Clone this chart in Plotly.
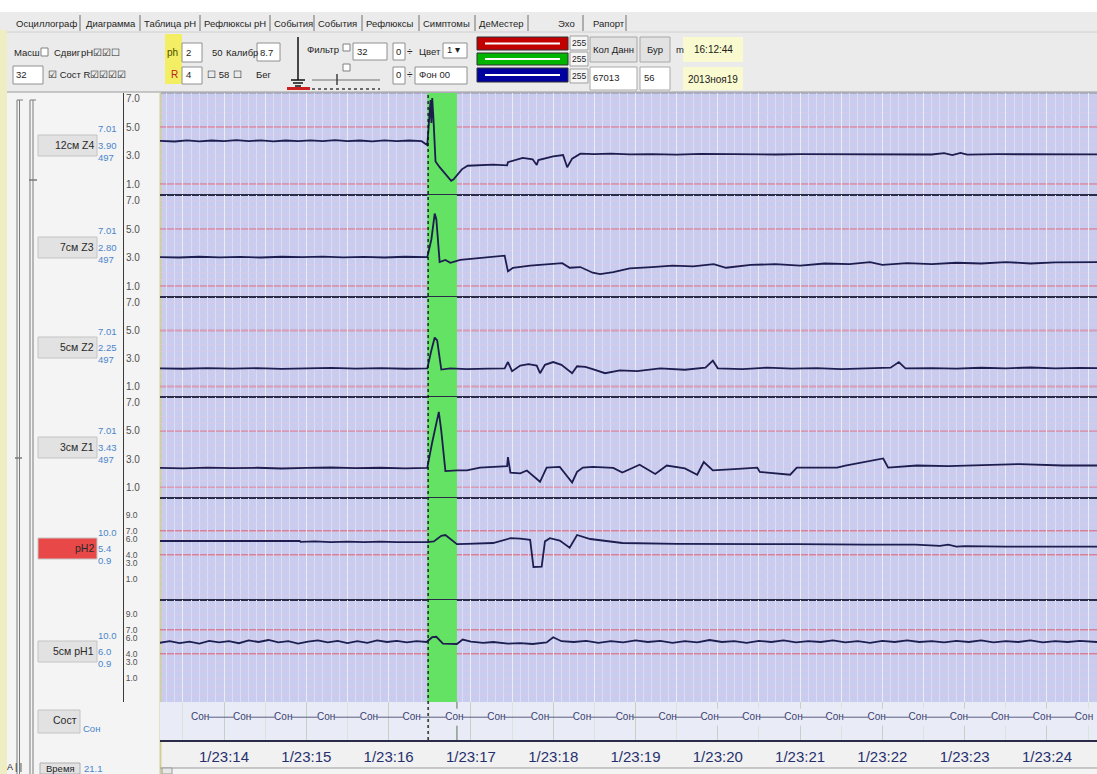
import plotly.graph_objects as go

W, H = 1097, 774

# ---------------- data ----------------
time_ticks = [14, 15, 16, 17, 18, 19, 20, 21, 22, 23, 24]
time_labels = ["1/23:14", "1/23:15", "1/23:16", "1/23:17", "1/23:18", "1/23:19",
               "1/23:20", "1/23:21", "1/23:22", "1/23:23", "1/23:24"]

ch1_t = [13.22, 13.40, 13.55, 13.70, 13.85, 14.00, 14.15, 14.30, 14.45, 14.60, 14.75, 14.90, 15.05, 15.20,
         15.35, 15.50, 15.65, 15.80, 15.95, 16.10, 16.25, 16.40, 16.47, 16.51, 16.52, 16.53, 16.545, 16.57,
         16.62, 16.70, 16.76, 16.79, 16.89, 16.96, 17.10, 17.27, 17.44, 17.45, 17.63, 17.75, 17.80, 17.82,
         18.00, 18.12, 18.17, 18.23, 18.33, 18.50, 18.70, 18.93, 19.20, 19.50, 19.80, 20.10, 20.40, 20.70,
         21.00, 21.40, 21.80, 22.20, 22.60, 22.75, 22.85, 22.95, 23.03, 23.40, 23.80, 24.20, 24.61]
ch1_v = [4.05, 4.00, 4.08, 4.01, 4.07, 4.02, 4.09, 4.03, 4.08, 4.01, 4.07, 4.02, 4.08, 4.03,
         4.09, 4.02, 4.07, 4.01, 4.08, 4.03, 4.07, 4.02, 3.75, 6.90, 5.30, 7.05, 5.60, 2.60,
         2.20, 1.65, 1.25, 1.35, 2.05, 2.30, 2.35, 2.38, 2.33, 2.55, 2.85, 2.75, 2.35, 2.70,
         2.95, 3.05, 2.20, 2.80, 3.15, 3.12, 3.15, 3.10, 3.12, 3.08, 3.13, 3.10, 3.12, 3.09,
         3.11, 3.10, 3.12, 3.10, 3.09, 3.18, 3.05, 3.20, 3.08, 3.11, 3.10, 3.12, 3.10]

ch2_t = [13.22, 13.45, 13.70, 13.95, 14.20, 14.45, 14.70, 14.95, 15.20, 15.45, 15.70, 15.95, 16.20,
         16.47, 16.52, 16.56, 16.58, 16.62, 16.69, 16.75, 16.87, 17.05, 17.27, 17.41, 17.45, 17.51,
         17.72, 17.92, 18.11, 18.20, 18.33, 18.48, 18.57, 18.73, 18.93, 19.20, 19.45, 19.70, 19.95,
         20.10, 20.40, 20.70, 21.00, 21.30, 21.60, 21.85, 22.00, 22.30, 22.60, 22.90, 23.20, 23.50,
         23.80, 24.10, 24.40, 24.61]
ch2_v = [3.05, 3.02, 3.07, 3.03, 3.06, 3.02, 3.07, 3.04, 3.08, 3.03, 3.06, 3.02, 3.07,
         3.04, 4.30, 6.10, 5.70, 2.70, 2.85, 2.65, 2.85, 2.95, 3.10, 3.15, 2.05, 2.30,
         2.45, 2.55, 2.62, 2.30, 2.35, 1.95, 1.85, 2.00, 2.25, 2.35, 2.45, 2.40, 2.55,
         2.30, 2.50, 2.55, 2.45, 2.60, 2.55, 2.70, 2.50, 2.62, 2.55, 2.65, 2.60, 2.70,
         2.60, 2.68, 2.72, 2.70]

ch3_t = [13.22, 13.50, 13.80, 14.10, 14.40, 14.70, 15.00, 15.30, 15.60, 15.90, 16.20, 16.47, 16.52,
         16.56, 16.59, 16.64, 16.75, 16.95, 17.20, 17.41, 17.45, 17.50, 17.60, 17.70, 17.80, 17.84,
         17.90, 18.00, 18.10, 18.23, 18.29, 18.39, 18.48, 18.63, 18.81, 19.02, 19.30, 19.60, 19.85,
         19.94, 20.00, 20.30, 20.60, 20.90, 21.20, 21.50, 21.80, 22.10, 22.20, 22.28, 22.60, 22.90,
         23.20, 23.50, 23.80, 24.10, 24.40, 24.61]
ch3_v = [2.30, 2.27, 2.32, 2.28, 2.31, 2.26, 2.30, 2.33, 2.28, 2.31, 2.27, 2.30, 3.60,
         4.50, 4.30, 2.21, 2.30, 2.25, 2.28, 2.30, 2.75, 2.10, 2.50, 2.60, 2.50, 1.95,
         2.55, 2.75, 2.55, 1.95, 2.45, 2.40, 2.25, 1.95, 2.15, 2.10, 2.30, 2.20, 2.35,
         2.85, 2.30, 2.25, 2.35, 2.28, 2.32, 2.25, 2.30, 2.35, 2.75, 2.30, 2.32, 2.28,
         2.34, 2.30, 2.36, 2.30, 2.33, 2.31]

ch4_t = [13.22, 13.50, 13.80, 14.10, 14.40, 14.70, 15.00, 15.30, 15.60, 15.90, 16.20, 16.47, 16.53,
         16.61, 16.64, 16.69, 16.83, 16.95, 17.11, 17.44, 17.45, 17.48, 17.60, 17.68, 17.84, 17.92,
         18.08, 18.23, 18.29, 18.36, 18.48, 18.73, 18.84, 19.05, 19.24, 19.38, 19.60, 19.75, 19.83,
         19.94, 20.20, 20.48, 20.51, 20.88, 20.96, 21.45, 21.55, 22.01, 22.07, 22.42, 22.80, 23.20,
         23.67, 24.19, 24.61]
ch4_v = [2.38, 2.35, 2.40, 2.36, 2.39, 2.34, 2.38, 2.41, 2.36, 2.39, 2.35, 2.38, 4.20,
         6.35, 5.00, 2.15, 2.20, 2.20, 2.40, 2.50, 3.15, 2.05, 2.00, 2.20, 1.40, 2.40,
         2.45, 1.35, 2.10, 2.40, 2.45, 2.38, 2.05, 2.60, 1.95, 2.55, 2.35, 1.90, 2.80,
         2.20, 2.30, 2.40, 2.10, 1.90, 2.40, 2.40, 2.55, 3.05, 2.40, 2.55, 2.50, 2.55,
         2.65, 2.55, 2.55]

ph2_t = [13.22, 14.92, 14.93, 15.10, 15.30, 15.50, 15.70, 15.90, 16.10, 16.30, 16.47, 16.55, 16.64,
         16.69, 16.76, 16.83, 16.95, 17.27, 17.48, 17.60, 17.72, 17.76, 17.86, 17.90, 17.96, 18.08,
         18.20, 18.29, 18.45, 18.84, 19.50, 20.00, 20.96, 21.80, 22.40, 22.70, 22.80, 22.90, 23.00,
         23.50, 24.20, 24.61]
ph2_v = [5.75, 5.75, 5.65, 5.70, 5.62, 5.68, 5.60, 5.66, 5.62, 5.60, 5.62, 5.70, 6.40,
         6.50, 5.90, 5.35, 5.40, 5.50, 6.10, 6.05, 5.90, 2.50, 2.55, 5.70, 6.10, 5.80,
         4.90, 6.50, 6.00, 5.50, 5.40, 5.40, 5.35, 5.30, 5.30, 5.15, 5.30, 5.05, 5.10,
         5.05, 5.05, 5.05]

ph1_t = [13.22, 13.34, 13.46, 13.58, 13.70, 13.82, 13.94, 14.06, 14.18, 14.30, 14.42, 14.54, 14.66,
         14.78, 14.90, 15.02, 15.14, 15.26, 15.38, 15.50, 15.62, 15.74, 15.86, 15.98, 16.10, 16.22,
         16.34, 16.46, 16.53, 16.58, 16.66, 16.83, 16.90, 17.00, 17.15, 17.27, 17.45, 17.60, 17.75,
         17.92, 18.00, 18.10, 18.25, 18.40, 18.55, 18.70, 18.85, 19.00, 19.15, 19.30, 19.45, 19.60,
         19.75, 19.90, 20.05, 20.20, 20.35, 20.50, 20.65, 20.80, 20.95, 21.10, 21.25, 21.40, 21.55,
         21.70, 21.85, 22.00, 22.15, 22.30, 22.45, 22.60, 22.75, 22.90, 23.05, 23.20, 23.35, 23.50,
         23.65, 23.80, 23.95, 24.10, 24.25, 24.40, 24.61]
ph1_v = [5.40, 5.60, 5.35, 5.55, 5.30, 5.65, 5.45, 5.60, 5.35, 5.70, 5.50, 5.75, 5.45,
         5.60, 5.30, 5.55, 5.70, 5.45, 5.65, 5.35, 5.60, 5.40, 5.70, 5.50, 5.65, 5.45,
         5.60, 5.50, 6.10, 6.15, 5.30, 5.25, 5.80, 5.55, 5.40, 5.50, 5.30, 5.35, 5.25,
         5.45, 6.10, 5.60, 5.50, 5.65, 5.40, 5.60, 5.45, 5.70, 5.50, 5.65, 5.40, 5.60,
         5.45, 5.75, 5.50, 5.60, 5.40, 5.65, 5.50, 5.70, 5.45, 5.60, 5.50, 5.70, 5.45,
         5.60, 5.40, 5.65, 5.50, 5.70, 5.50, 5.60, 5.45, 5.65, 5.50, 5.70, 5.45, 5.60,
         5.50, 5.70, 5.45, 5.60, 5.50, 5.65, 5.50]

sleep_t = [13.71, 14.22, 14.72, 15.24, 15.76, 16.28, 16.80, 17.31, 17.84, 18.35, 18.87,
           19.39, 19.90, 20.41, 20.92, 21.42, 21.93, 22.43, 22.93, 23.43, 23.94, 24.45]
sleep_state = ["Сон", "Сон", "Сон", "Сон", "Сон", "Сон", "Сон", "Сон", "Сон", "Сон", "Сон",
               "Сон", "Сон", "Сон", "Сон", "Сон", "Сон", "Сон", "Сон", "Сон", "Сон", "Сон"]

event_start, event_end = 16.47, 16.83
cursor_t = 16.48

channel_names = ["12см Z4", "7см Z3", "5см Z2", "3см Z1", "pH2", "5см pH1"]
channel_top = ["7.01", "7.01", "7.01", "7.01", "10.0", "10.0"]
channel_mid = ["3.90", "2.80", "2.25", "3.43", "5.4", "6.0"]
channel_bot = ["497", "497", "497", "497", "0.9", "0.9"]

p_ticks = [1, 3, 5, 7]
p_tick_text = ["1.0", "3.0", "5.0", "7.0"]
ph_ticks = [1, 3, 4, 6, 7, 9]
ph_tick_text = ["1.0", "3.0", "4.0", "6.0", "7.0", "9.0"]
p_limits = [5, 1]
ph_limits = [7, 4]

tab_names = ["Осциллограф", "Диаграмма", "Таблица рН", "Рефлюксы рН", "События", "События",
             "Рефлюксы", "Симптомы", "ДеМестер", "Эхо", "Рапорт"]

# ---------------- styling / layout ----------------
NARROW = "Liberation Sans Narrow, Arial Narrow, Liberation Sans, sans-serif"
TRACE = "#1d1d4f"
RED = "#d9667e"
GREEN = "#63e263"
BG = "#c9ccef"
SLEEP_BG = "#e9ebf6"


def px(x):
    return x / W


def py(y):
    return 1 - y / H


X0 = px(160)
T_RANGE = [13.222, 24.608]
rows = [(93, 195), (195, 297), (297, 397), (397, 498), (498, 600), (600, 702), (702, 740)]
y_ranges = [[0.25, 7.4], [0.25, 7.4], [0.25, 7.4], [0.25, 7.4], [-1.625, 11.125], [-2.0, 10.75]]
SLEEP_RANGE = [-0.6, 0.4]

fig = go.Figure()
series = [(ch1_t, ch1_v), (ch2_t, ch2_v), (ch3_t, ch3_v), (ch4_t, ch4_v), (ph2_t, ph2_v), (ph1_t, ph1_v)]


def ax(i):
    return ("x", "y") if i == 1 else (f"x{i}", f"y{i}")


for i, (t, v) in enumerate(series, start=1):
    xa, ya = ax(i)
    lo, hi = y_ranges[i - 1]
    # event (reflux) band, drawn as a filled area under the trace
    fig.add_trace(go.Scatter(x=[event_start, event_end, event_end, event_start, event_start],
                             y=[lo, lo, hi, hi, lo], xaxis=xa, yaxis=ya, mode="lines", fill="toself",
                             fillcolor=GREEN, line=dict(width=0, color=GREEN),
                             hoverinfo="skip", showlegend=False))
    fig.add_trace(go.Scatter(x=t, y=v, xaxis=xa, yaxis=ya, mode="lines",
                             line=dict(color=TRACE, width=1.8), hoverinfo="skip", showlegend=False))

fig.add_trace(go.Scatter(x=sleep_t, y=sleep_state, text=sleep_state, xaxis="x7", yaxis="y7",
                         mode="lines+markers+text", textposition="middle center",
                         textfont=dict(size=10, color="#3a3f6e", family=NARROW),
                         line=dict(color="#5c5f80", width=1),
                         marker=dict(symbol="square", size=17, color=SLEEP_BG, line=dict(width=0)),
                         hoverinfo="skip", showlegend=False))

layout = dict(width=W, height=H, autosize=False, margin=dict(l=0, r=0, t=0, b=0, pad=0),
              paper_bgcolor="#f4f4f4", plot_bgcolor=BG, showlegend=False, hovermode=False)

shapes = []
annotations = []

for i, (top, bot) in enumerate(rows, start=1):
    xa, ya = ax(i)
    xkey = "xaxis" if i == 1 else f"xaxis{i}"
    ykey = "yaxis" if i == 1 else f"yaxis{i}"
    xd = dict(domain=[X0, 1], range=T_RANGE, anchor=ya, showline=True, linecolor="#2b2b48",
              linewidth=1.2, zeroline=False, fixedrange=True, mirror=(i > 1))
    if i > 1:
        xd["matches"] = "x"
    if i < 7:
        xd.update(showticklabels=False, ticks="", tickmode="linear", tick0=13, dtick=0.5,
                  showgrid=True, gridcolor="#e9eef3", gridwidth=1,
                  minor=dict(tickmode="linear", tick0=13, dtick=0.1, showgrid=True,
                             gridcolor="#d9def2", gridwidth=1))
        is_ph = i >= 5
        yd = dict(domain=[py(bot), py(top)], range=y_ranges[i - 1], anchor="free", position=px(123),
                  side="right", showline=True, linecolor="#3a3a3a", linewidth=1, ticks="",
                  tickmode="array", tickvals=ph_ticks if is_ph else p_ticks,
                  ticktext=ph_tick_text if is_ph else p_tick_text,
                  tickfont=dict(size=8.5 if is_ph else 10, color="#505050", family=NARROW),
                  showgrid=False, zeroline=False, fixedrange=True,
                  minor=dict(tickmode="linear", tick0=0, dtick=1 if is_ph else 0.5, showgrid=True,
                             gridcolor="rgba(222,200,226,0.55)", gridwidth=1))
        for val in (ph_limits if is_ph else p_limits):
            shapes.append(dict(type="line", xref=xa, x0=T_RANGE[0], x1=T_RANGE[1], yref=ya, y0=val, y1=val,
                               line=dict(color=RED, width=1.4), layer="below"))
    else:
        xd.update(showticklabels=True, tickmode="array", tickvals=time_ticks, ticktext=time_labels,
                  ticks="outside", ticklen=2, tickcolor="rgba(0,0,0,0)", linewidth=2, mirror=False,
                  tickfont=dict(size=15, color="#26306e", family=NARROW),
                  showgrid=True, gridcolor="#c4d2c6", gridwidth=1,
                  minor=dict(tickmode="linear", tick0=13, dtick=0.5, showgrid=True,
                             gridcolor="#d9e4da", gridwidth=1))
        yd = dict(domain=[py(bot), py(top)], type="category", range=SLEEP_RANGE, anchor="x7",
                  visible=False, fixedrange=True)
        shapes.append(dict(type="rect", xref="x7", x0=T_RANGE[0], x1=T_RANGE[1], yref="y7",
                           y0=SLEEP_RANGE[0], y1=SLEEP_RANGE[1], fillcolor=SLEEP_BG,
                           line=dict(width=0), layer="below"))
        shapes.append(dict(type="line", xref="x7", x0=event_end, x1=event_end, yref="y7",
                           y0=SLEEP_RANGE[0], y1=SLEEP_RANGE[1], line=dict(color="#8d9a8d", width=1.5),
                           layer="below"))
    layout[xkey] = xd
    layout[ykey] = yd


# ---------------- UI chrome helpers ----------------
def rect(x0, y0, x1, y1, fill, line=None, lw=1, layer="below"):
    shapes.append(dict(type="rect", xref="paper", yref="paper", x0=px(x0), x1=px(x1), y0=py(y1), y1=py(y0),
                       fillcolor=fill, line=dict(color=line if line else fill, width=lw if line else 0),
                       layer=layer))


def seg(x0, y0, x1, y1, color, width=1, dash=None, layer="below"):
    ln = dict(color=color, width=width)
    if dash:
        ln["dash"] = dash
    shapes.append(dict(type="line", xref="paper", yref="paper", x0=px(x0), x1=px(x1), y0=py(y0), y1=py(y1),
                       line=ln, layer=layer))


def txt(s, x, y, size=9.5, color="#1e1e1e", anchor="left"):
    annotations.append(dict(text=s, x=px(x), y=py(y), xref="paper", yref="paper", xanchor=anchor,
                            yanchor="middle", showarrow=False, borderpad=0,
                            font=dict(size=size, color=color, family=NARROW)))


# cursor line
shapes.append(dict(type="line", xref="x", x0=cursor_t, x1=cursor_t, yref="paper", y0=py(740), y1=py(93),
                   line=dict(color="#111111", width=1.3, dash="dot"), layer="above"))

# top chrome
rect(0, 0, W, 12, "#ffffff")
rect(0, 12, W, 92, "#ebebeb")
seg(0, 92, W, 92, "#9a9a9a", 1)
seg(0, 32, W, 32, "#d0d0d0", 1)
tab_x = [15, 85, 143, 203, 273, 317, 365, 422, 478, 557, 592]
tab_div = [80, 140, 200, 270, 314, 362, 419, 475, 528, 583, 626]
for name, x in zip(tab_names, tab_x):
    txt(name, x, 23, 9.5)
for x in tab_div:
    seg(x, 15, x, 31, "#707070", 1)

# row 2 / row 3 controls
txt("Масш", 13, 52)
rect(41, 48, 48, 56, "#ffffff", "#808080")
txt("Сдвиг", 53, 52)
txt("рН☑☑☐", 80, 52)
rect(13, 66, 43, 84, "#ffffff", "#909090")
txt("32", 15, 75)
txt("☑ Сост R☑☑☑☑", 47, 75)
rect(165, 34, 182, 84, "#f3ee63")
txt("ph", 166, 52, 10, "#505000")
txt("R", 170, 75, 10, "#c02020")
rect(182, 43, 202, 62, "#ffffff", "#909090")
txt("2", 185, 52)
rect(182, 67, 202, 84, "#ffffff", "#909090")
txt("4", 185, 75)
txt("50", 211, 52)
txt("Калибр", 225, 52)
rect(257, 43, 280, 61, "#ffffff", "#909090")
txt("8.7", 259, 52)
txt("☐ 58", 206, 75)
txt("☐", 232, 75)
txt("Бег", 255, 75)
seg(298, 37, 298, 80, "#111111", 1.5)
seg(291, 80, 305, 80, "#111111", 1.5)
seg(293, 83, 303, 83, "#111111", 1.5)
seg(295, 86, 301, 86, "#111111", 1.5)
rect(287, 87, 310, 90, "#cc2020")
txt("Фильтр", 306, 50)
rect(343, 44, 350, 51, "#ffffff", "#808080")
rect(343, 64, 350, 71, "#ffffff", "#808080")
rect(353, 43, 387, 60, "#ffffff", "#909090")
txt("32", 356, 51)
seg(312, 80, 380, 80, "#707070", 1)
seg(337, 74, 337, 85, "#404040", 1.5)
seg(312, 89, 380, 89, "#404040", 1.5, "dot")
rect(393, 43, 405, 60, "#ffffff", "#909090")
txt("0", 395, 51)
txt("÷", 406, 51, 10)
rect(393, 67, 405, 84, "#ffffff", "#909090")
txt("0", 395, 75)
txt("÷", 406, 75, 10)
rect(415, 67, 467, 84, "#ffffff", "#909090")
txt("Фон 00", 418, 75)
txt("Цвет", 418, 51)
rect(443, 43, 467, 58, "#ffffff", "#909090")
txt("1 ▾", 446, 50)
rect(477, 37, 568, 50, "#c20000", "#303030")
seg(485, 43.5, 560, 43.5, "#ffffff", 2)
rect(477, 53, 568, 65, "#00b400", "#303030")
seg(485, 59, 560, 59, "#ffffff", 2)
rect(477, 68, 568, 82, "#0000a0", "#303030")
seg(485, 75, 560, 75, "#ffffff", 2)
for yy in (43, 59, 76):
    rect(570, yy - 7, 588, yy + 7, "#f6f6f6", "#a0a0a0")
    txt("255", 571, yy, 8.5)
rect(590, 37, 637, 62, "#e2e2e2", "#a8a8a8")
txt("Кол Данн", 592, 50)
rect(640, 37, 670, 62, "#e2e2e2", "#a8a8a8")
txt("Бур", 646, 50)
rect(590, 67, 637, 90, "#ffffff", "#a8a8a8")
txt("67013", 592, 78)
rect(640, 67, 670, 90, "#ffffff", "#a8a8a8")
txt("56", 643, 78)
txt("m", 675, 50)
rect(683, 37, 743, 62, "#fafad0")
txt("16:12:44", 713, 50, 10, "#202020", "center")
rect(683, 67, 743, 90, "#fafad0")
txt("2013ноя19", 713, 79, 10, "#202020", "center")

# left panel
rect(0, 30, 7, H, "#efedc4")
for x in (17, 19.5, 30, 33):
    seg(x, 100, x, H, "#7a7a7a", 1)
seg(17, 100, 23, 100, "#7a7a7a", 1)
seg(30, 100, 36, 100, "#7a7a7a", 1)
seg(29, 180, 37, 180, "#7a7a7a", 1.5)
seg(15, 458, 22, 458, "#7a7a7a", 1.5)

label_y = [145, 247, 347, 447, 548, 651]
for k, name in enumerate(channel_names):
    yc = label_y[k]
    fill = "#e84848" if name == "pH2" else "#e2e2e2"
    rect(38, yc - 10, 97, yc + 11, fill, "#c4c4c4")
    txt(name, 95, yc, 10.5, "#2a2a2a", "right")
    txt(channel_top[k], 97, yc - 16, 9.5, "#4a86cc")
    txt(channel_mid[k], 97, yc, 9.5, "#4a86cc")
    txt(channel_bot[k], 97, yc + 12, 9.5, "#4a86cc")
rect(38, 710, 80, 733, "#e2e2e2", "#c4c4c4")
txt("Сост", 78, 720, 10.5, "#2a2a2a", "right")
txt("Сон", 82, 728, 9.5, "#4a86cc")

# plot borders & bottom strip
seg(160.5, 93, 160.5, H, "#d2cf95", 2)
seg(161, 93, W, 93, "#8e8e9e", 1)
rect(162, 741, W, 768, "#f1f1f1")
seg(160, 768, W, 768, "#9a9a9a", 1)
rect(162, 768, 172, H, "#e8e8e8", "#9a9a9a")
txt("A | |", 6, 767, 9)
rect(40, 763, 80, H, "#e2e2e2", "#b0b0b0")
txt("Время", 45, 768, 9.5)
txt("21.1", 83, 768, 9.5, "#4a86cc")

layout["shapes"] = shapes
layout["annotations"] = annotations
fig.update_layout(**layout)

fig.write_html("out.html", config={"displayModeBar": False},
               post_script="document.body.style.margin='0px';document.body.style.padding='0px';")
